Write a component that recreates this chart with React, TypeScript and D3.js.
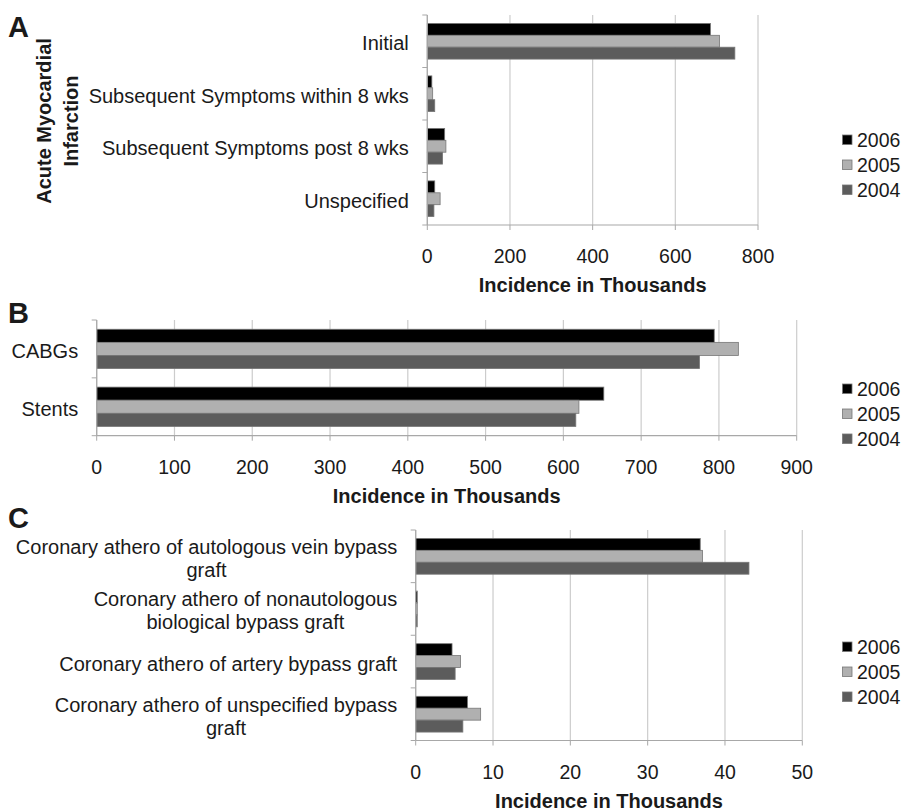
import React from "react";
import * as d3 from "d3";

const seriesNames = ["2006", "2005", "2004"];
const seriesFill = ["#000000", "#b0b0b0", "#5c5c5c"];

const categoriesA = [
  ["Initial"],
  ["Subsequent Symptoms within 8 wks"],
  ["Subsequent Symptoms post 8 wks"],
  ["Unspecified"],
];
const a2006 = [685, 11, 42, 18];
const a2005 = [707, 13, 45, 31];
const a2004 = [744, 18, 37, 16];
const ticksA = [0, 200, 400, 600, 800];

const categoriesB = [["CABGs"], ["Stents"]];
const b2006 = [794, 652];
const b2005 = [825, 620];
const b2004 = [775, 616];
const ticksB = [0, 100, 200, 300, 400, 500, 600, 700, 800, 900];

const categoriesC = [
  ["Coronary athero of autologous vein bypass", "graft"],
  ["Coronary athero of nonautologous", "biological bypass graft"],
  ["Coronary athero of artery bypass graft"],
  ["Coronary athero of unspecified bypass", "graft"],
];
const c2006 = [36.8, 0.2, 4.7, 6.7];
const c2005 = [37.1, 0.2, 5.8, 8.4];
const c2004 = [43.1, 0.2, 5.1, 6.1];
const ticksC = [0, 10, 20, 30, 40, 50];

const FONT = "'Liberation Sans', Arial, Helvetica, sans-serif";
const TEXT = "#1a1a1a";
const GRID = "#cccccc";
const AXIS = "#a8a8a8";

let ctx: CanvasRenderingContext2D | null = null;
function measure(t: string, size: number): number {
  if (!ctx) {
    const c = document.createElement("canvas");
    ctx = c.getContext("2d");
  }
  if (!ctx) return t.length * size * 0.5;
  ctx.font = `${size}px ${FONT}`;
  return ctx.measureText(t).width;
}

type PanelProps = {
  letter: string;
  letterY: number;
  categories: string[][];
  series: number[][];
  ticks: number[];
  x0: number;
  x1: number;
  y0: number;
  y1: number;
  legendY: number;
};

function Panel(p: PanelProps) {
  const x = d3.scaleLinear().domain([p.ticks[0], p.ticks[p.ticks.length - 1]]).range([p.x0, p.x1]);
  const cat = d3.scaleBand<number>().domain(d3.range(p.categories.length)).range([p.y0, p.y1]).padding(0);
  const bw = cat.bandwidth();
  const groupH = bw * 0.68;
  const ser = d3
    .scaleBand<number>()
    .domain(d3.range(seriesNames.length))
    .range([(bw - groupH) / 2, (bw + groupH) / 2])
    .padding(0);
  const boundaries = d3.range(p.categories.length + 1).map((i) => p.y0 + i * bw);
  const labelRight = p.x0 - 18.5;
  const fs = 20;
  return (
    <g>
      <text x={8} y={p.letterY} fontFamily={FONT} fontWeight="bold" fontSize={29} fill={TEXT}>
        {p.letter}
      </text>
      {p.ticks.map((t) => (
        <line key={"g" + t} x1={x(t)} x2={x(t)} y1={p.y0} y2={p.y1} stroke={GRID} strokeWidth={1.2} />
      ))}
      {p.series.map((vals, si) =>
        vals.map((v, ci) => (
          <rect
            key={si + "-" + ci}
            x={x(0)}
            y={(cat(ci) as number) + (ser(si) as number)}
            width={Math.max(0, x(v) - x(0))}
            height={ser.bandwidth()}
            fill={seriesFill[si]}
            stroke="#777"
            strokeWidth={0.8}
          />
        ))
      )}
      <line x1={p.x0} x2={p.x0} y1={p.y0} y2={p.y1} stroke={AXIS} strokeWidth={1.2} />
      {boundaries.map((b, i) => (
        <line key={"bt" + i} x1={p.x0 - 5} x2={p.x0} y1={b} y2={b} stroke={AXIS} strokeWidth={1} />
      ))}
      <line x1={p.x0} x2={p.x1} y1={p.y1} y2={p.y1} stroke={AXIS} strokeWidth={1.2} />
      {p.ticks.map((t) => (
        <line key={"xt" + t} x1={x(t)} x2={x(t)} y1={p.y1} y2={p.y1 + 5} stroke={AXIS} strokeWidth={1} />
      ))}
      {p.ticks.map((t) => (
        <text
          key={"tl" + t}
          x={x(t)}
          y={p.y1 + 38}
          textAnchor="middle"
          fontFamily={FONT}
          fontSize={19.5}
          fill={TEXT}
        >
          {t}
        </text>
      ))}
      <text
        x={(p.x0 + p.x1) / 2}
        y={p.y1 + 67}
        textAnchor="middle"
        fontFamily={FONT}
        fontWeight="bold"
        fontSize={20}
        fill={TEXT}
      >
        Incidence in Thousands
      </text>
      {p.categories.map((lines, ci) => {
        const center = (cat(ci) as number) + bw / 2 + 2;
        const maxW = Math.max(...lines.map((l) => measure(l, fs)));
        const cx = labelRight - maxW / 2;
        return lines.map((l, li) => (
          <text
            key={"cl" + ci + "-" + li}
            x={lines.length > 1 ? cx : labelRight}
            y={center + (li - (lines.length - 1) / 2) * 23 + 7}
            textAnchor={lines.length > 1 ? "middle" : "end"}
            fontFamily={FONT}
            fontSize={fs}
            fill={TEXT}
          >
            {l}
          </text>
        ));
      })}
      {seriesNames.map((s, si) => {
        const cy = p.legendY + si * 25;
        return (
          <g key={"lg" + s}>
            <rect x={842.5} y={cy - 5} width={9.5} height={9.5} fill={seriesFill[si]} stroke="#777" strokeWidth={0.8} />
            <text x={857} y={cy + 7} fontFamily={FONT} fontSize={19.5} fill={TEXT}>
              {s}
            </text>
          </g>
        );
      })}
    </g>
  );
}

export default function App() {
  return (
    <svg
      width={905}
      height={808}
      viewBox="0 0 905 808"
      style={{ position: "absolute", left: 0, top: 0, background: "#ffffff" }}
    >
      <rect x={0} y={0} width={905} height={808} fill="#ffffff" />
      <Panel
        letter="A"
        letterY={37}
        categories={categoriesA}
        series={[a2006, a2005, a2004]}
        ticks={ticksA}
        x0={427.3}
        x1={758}
        y0={15}
        y1={225}
        legendY={140}
      />
      <g transform="translate(51,121) rotate(-90)">
        <text textAnchor="middle" fontFamily={FONT} fontWeight="bold" fontSize={20} fill={TEXT}>
          Acute Myocardial
        </text>
      </g>
      <g transform="translate(77.5,121) rotate(-90)">
        <text textAnchor="middle" fontFamily={FONT} fontWeight="bold" fontSize={20} fill={TEXT}>
          Infarction
        </text>
      </g>
      <Panel
        letter="B"
        letterY={323}
        categories={categoriesB}
        series={[b2006, b2005, b2004]}
        ticks={ticksB}
        x0={96.7}
        x1={796.7}
        y0={320}
        y1={435.7}
        legendY={389}
      />
      <Panel
        letter="C"
        letterY={528}
        categories={categoriesC}
        series={[c2006, c2005, c2004]}
        ticks={ticksC}
        x0={415.7}
        x1={802.3}
        y0={530}
        y1={740.5}
        legendY={647}
      />
    </svg>
  );
}
